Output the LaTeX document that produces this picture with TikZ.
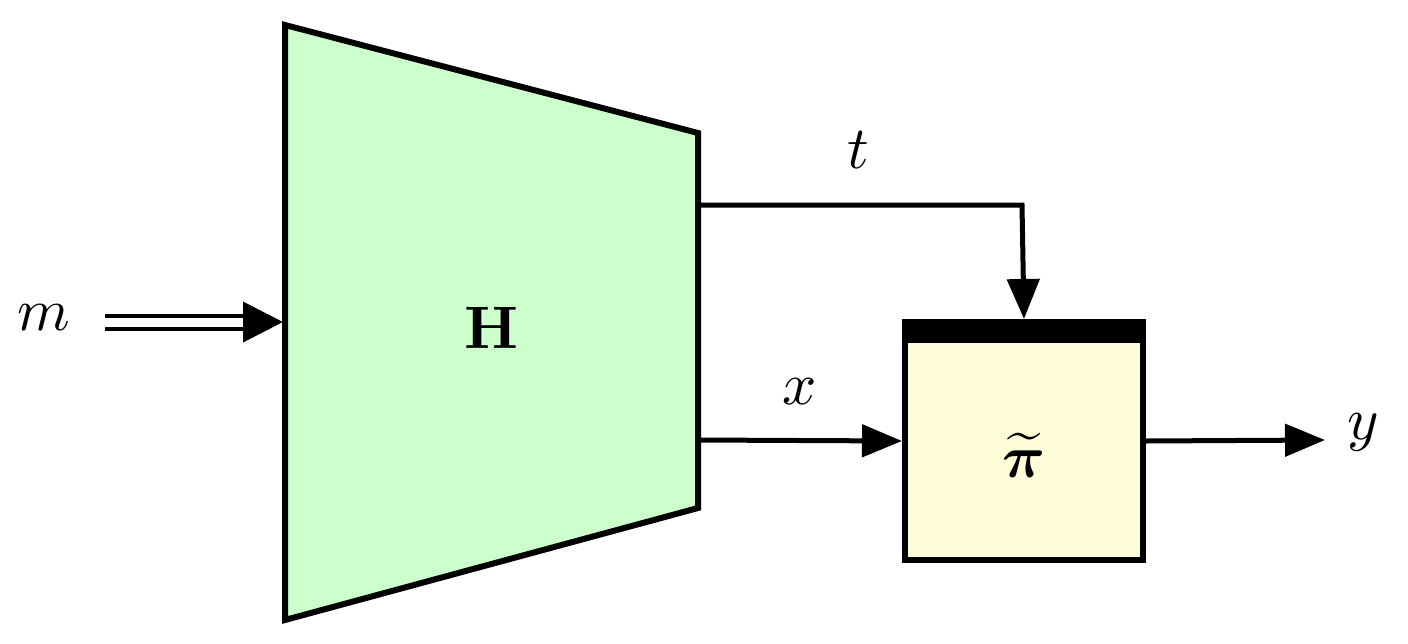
\documentclass[tikz,border=0pt]{standalone}
\usepackage{amsmath,bm}
\usetikzlibrary{arrows.meta}
\definecolor{hgreen}{RGB}{204,255,204}
\definecolor{pyellow}{RGB}{255,252,216}
\begin{document}
\begin{tikzpicture}[x=1pt,y=-1pt,
  edge/.style={line width=5pt,-{Triangle[length=40pt,width=32pt]}},
  lbl/.style={scale=6,transform shape}]
\useasboundingbox (0,0) rectangle (1408,643);
\coordinate (a) at (285,25); \coordinate (b) at (698,133);
\coordinate (c) at (698,508); \coordinate (d) at (285,620);
\draw[line width=6pt,fill=hgreen,line join=miter] (a)--(b)--(c)--(d)--cycle;
\node[lbl] (H) at (491,328) {$\mathbf{H}$};
\node[draw,line width=6pt,fill=pyellow,minimum width=238pt,minimum height=238pt,inner sep=0] (P) at (1024,441) {};
\fill (P.north west) rectangle ([yshift=-24pt]P.north east);
\node[lbl] (pi) at (1024,455) {$\widetilde{\bm{\pi}}$};
\node[lbl] (m) at (44,318) {$m$};
\coordinate (ms) at (105,322); \coordinate (me) at (283,322);
\draw[line width=4pt,double distance=9pt,-{Triangle[length=40pt,width=40pt]}] (ms)--(me);
\coordinate (ts) at (698,205); \coordinate (tc) at (1022,205);
\draw[edge] (ts)--(tc)--(P.north);
\node[lbl] (t) at (858,150) {$t$};
\coordinate (xs) at (698,440);
\draw[edge] (xs)--(P.west);
\node[lbl] (x) at (800,392) {$x$};
\coordinate (ye) at (1325,440);
\draw[edge] (P.east)--(ye);
\node[lbl] (y) at (1363,432) {$y$};
\end{tikzpicture}
\end{document}
